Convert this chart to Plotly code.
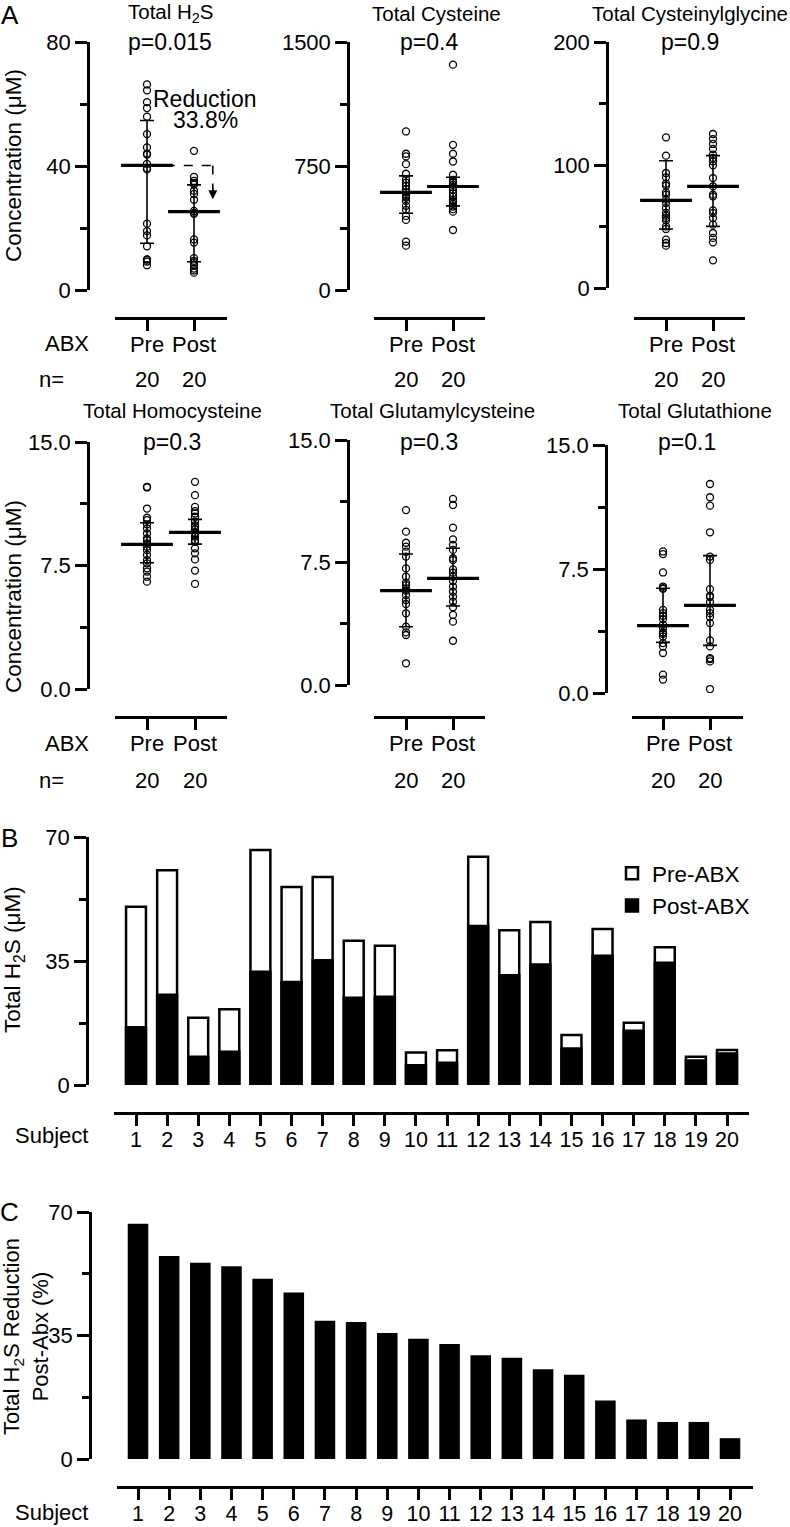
import plotly.graph_objects as go

W, H = 790, 1527
FONT = "Arial, 'Liberation Sans', Helvetica, sans-serif"


def px(x):
    return x / W


def py(y):
    return 1 - y / H


# ---------------- data ----------------
groups = ["Pre", "Post"]
subjects = list(range(1, 21))

# Total H2S per subject (µM) - panels A (first) and B
h2s_pre = [50.3, 60.6, 19.0, 21.4, 66.3, 55.9, 58.7, 40.7, 39.3, 9.2,
           9.8, 64.4, 43.7, 46.0, 14.1, 44.0, 17.6, 38.9, 8.0, 9.9]
h2s_post = [16.3, 25.5, 8.0, 9.4, 32.0, 29.1, 35.2, 24.6, 24.9, 5.6,
            6.3, 44.9, 31.0, 34.0, 10.3, 36.5, 15.3, 34.5, 6.9, 8.9]

cys_pre = [959, 824, 808, 761, 703, 670, 650, 630, 610, 590,
           575, 565, 559, 539, 509, 485, 448, 424, 293, 268]
cys_post = [1363, 878, 824, 777, 697, 666, 656, 650, 636, 622,
            606, 585, 565, 545, 535, 521, 505, 489, 474, 363]

cysgly_pre = [122.5, 107.6, 93.5, 90.0, 84.8, 83.2, 77.8, 75.9, 71.8, 69.1,
              65.0, 61.0, 58.8, 56.9, 55.0, 50.1, 48.0, 39.3, 36.6, 34.4]
cysgly_post = [125.2, 121.1, 117.1, 113.0, 108.4, 105.7, 103.0, 99.7, 89.4, 82.7,
               75.9, 74.5, 63.1, 61.0, 56.9, 51.5, 44.7, 40.7, 37.1, 22.5]

hcy_pre = [12.28, 12.24, 10.96, 10.4, 10.26, 10.0, 9.75, 9.45, 9.15, 9.05,
           8.84, 8.64, 8.44, 8.14, 7.83, 7.63, 7.33, 7.13, 6.82, 6.52]
hcy_post = [12.58, 11.77, 11.06, 10.8, 10.66, 10.46, 10.16, 9.95, 9.85, 9.69,
            9.49, 9.41, 9.25, 9.05, 8.94, 8.54, 8.24, 7.87, 7.19, 6.38]

glucys_pre = [10.71, 9.39, 8.71, 8.47, 8.16, 7.86, 7.14, 6.63, 6.27, 6.12,
              5.92, 5.78, 5.51, 5.2, 4.96, 4.39, 3.57, 3.22, 3.06, 1.33]
glucys_post = [11.39, 11.02, 9.63, 8.92, 8.57, 8.27, 7.76, 7.65, 7.08, 6.88,
               6.63, 6.37, 6.02, 5.71, 5.41, 5.1, 4.76, 4.29, 3.88, 2.71]

gsh_pre = [8.56, 8.4, 7.29, 6.44, 6.34, 6.3, 5.03, 4.83, 4.67, 4.47,
           4.13, 3.93, 3.66, 3.58, 3.42, 3.02, 2.82, 2.42, 1.11, 0.81]
gsh_post = [12.64, 11.84, 11.33, 9.72, 8.25, 8.05, 6.28, 5.88, 5.8, 5.5,
            5.03, 4.83, 4.59, 4.23, 3.18, 2.82, 2.11, 2.05, 1.91, 0.24]

# median and interquartile range  [Pre, Post]
h2s_med, h2s_q1, h2s_q3 = [40.2, 25.3], [15.1, 9.1], [54.7, 33.9]
cys_med, cys_q1, cys_q3 = [590, 626], [464, 509], [690, 682]
cysgly_med, cysgly_q1, cysgly_q3 = [71.3, 82.7], [48.0, 50.1], [103.5, 107.6]
hcy_med, hcy_q1, hcy_q3 = [8.78, 9.51], [7.67, 8.8], [10.1, 10.3]
glucys_med, glucys_q1, glucys_q3 = [5.78, 6.53], [3.57, 4.84], [8.02, 8.37]
gsh_med, gsh_q1, gsh_q3 = [4.07, 5.3], [3.06, 2.88], [6.34, 8.31]

titles = ["Total H<sub>2</sub>S", "Total Cysteine", "Total Cysteinylglycine",
          "Total Homocysteine", "Total Glutamylcysteine", "Total Glutathione"]
pvalues = ["p=0.015", "p=0.4", "p=0.9", "p=0.3", "p=0.3", "p=0.1"]
n_counts = [20, 20]

# Panel C: % reduction of total H2S post-ABX
reduction_pct = [66.7, 57.5, 55.6, 54.6, 51.1, 47.2, 39.2, 38.8, 35.7, 34.1,
                 32.6, 29.4, 28.7, 25.4, 23.9, 16.6, 11.2, 10.5, 10.5, 5.9]

# ---------------- layout geometry (pixels) ----------------
panels = [
    # data, stats, ymax, dtick, fmt, ytop, ybot, axis_x, pre_x, post_x, xl, xr, xline_y
    (h2s_pre, h2s_post, h2s_med, h2s_q1, h2s_q3, 80, 40, "d", 42, 290, 88, 147, 194, 115, 227, 318),
    (cys_pre, cys_post, cys_med, cys_q1, cys_q3, 1500, 750, "d", 42, 290, 348, 406, 453, 374, 485, 318),
    (cysgly_pre, cysgly_post, cysgly_med, cysgly_q1, cysgly_q3, 200, 100, "d", 42, 288, 607, 666, 713, 634, 745, 318),
    (hcy_pre, hcy_post, hcy_med, hcy_q1, hcy_q3, 15, 7.5, ".1f", 442, 689, 88, 147, 195, 115, 227, 717),
    (glucys_pre, glucys_post, glucys_med, glucys_q1, glucys_q3, 15, 7.5, ".1f", 440, 685, 348, 406, 453, 374, 485, 717),
    (gsh_pre, gsh_post, gsh_med, gsh_q1, gsh_q3, 15, 7.5, ".1f", 445, 693, 606, 663, 710, 632, 743, 717),
]
title_pos = [(170, 13), (436, 13), (690, 13), (172, 410), (432, 410), (695, 410)]
p_pos = [(170, 42), (429, 42), (690, 42), (172, 442), (429, 442), (687, 442)]

fig = go.Figure()
layout = {}
annotations = []
shapes = []


def ann(text, x, y, size=21, xanchor="center", yanchor="middle", angle=0):
    annotations.append(dict(text=text, x=px(x), y=py(y), xref="paper", yref="paper",
                            showarrow=False, xanchor=xanchor, yanchor=yanchor,
                            textangle=angle, font=dict(size=size, color="black", family=FONT)))


def names(i):
    s = "" if i == 1 else str(i)
    return "xaxis" + s, "yaxis" + s, "x" + s, "y" + s


def yaxis_def(ytop, ybot, axis_x, rng, dtick, fmt):
    return dict(domain=[py(ybot), py(ytop)], anchor="free", position=px(axis_x),
                range=rng, showline=True, linewidth=2.5, linecolor="black",
                ticks="outside", ticklen=12, tickwidth=2.5, tickcolor="black",
                dtick=dtick, tick0=0, tickformat=fmt, showgrid=False, zeroline=False,
                minor=dict(dtick=dtick / 2, tick0=0, ticks="outside", ticklen=7,
                           tickwidth=2.5, tickcolor="black", showgrid=False),
                tickfont=dict(size=22, color="black", family=FONT), automargin=False,
                fixedrange=True)


def xaxis_def(xl, xr, line_y, rng, tickvals, ticktext, size):
    return dict(domain=[px(xl), px(xr)], anchor="free", position=py(line_y), range=rng,
                showline=True, linewidth=2.5, linecolor="black",
                tickvals=tickvals, ticktext=ticktext, ticks="outside", ticklen=11,
                tickwidth=2.5, tickcolor="black", showgrid=False, zeroline=False,
                ticklabelstandoff=-5,
                tickfont=dict(size=size, color="black", family=FONT), automargin=False,
                fixedrange=True)


for i, (pre, post, med, q1, q3, ymax, dtick, fmt, ytop, ybot, ax_x, pre_x, post_x,
        xl, xr, xline_y) in enumerate(panels, start=1):
    xa, ya, xn, yn = names(i)
    unit = post_x - pre_x
    layout[xa] = xaxis_def(xl, xr, xline_y, [(xl - pre_x) / unit, (xr - pre_x) / unit],
                           [0, 1], groups, 22)
    layout[ya] = yaxis_def(ytop, ybot, ax_x, [0, ymax], dtick, fmt)

    for gi, vals in enumerate([pre, post]):
        fig.add_trace(go.Scatter(x=[gi] * len(vals), y=vals, mode="markers", xaxis=xn, yaxis=yn,
                                 marker=dict(symbol="circle-open", size=7, color="black",
                                             line=dict(width=1.3, color="black")),
                                 showlegend=False, hoverinfo="y"))
    # IQR whiskers
    fig.add_trace(go.Scatter(x=[0, 1], y=med, mode="markers", xaxis=xn, yaxis=yn,
                             marker=dict(size=2, color="rgba(0,0,0,0)"),
                             error_y=dict(type="data", symmetric=False,
                                          array=[q3[k] - med[k] for k in range(2)],
                                          arrayminus=[med[k] - q1[k] for k in range(2)],
                                          width=7, thickness=1.6, color="black"),
                             showlegend=False, hoverinfo="skip"))
    # median lines
    fig.add_trace(go.Scatter(x=[0, 1], y=med, mode="markers", xaxis=xn, yaxis=yn,
                             marker=dict(symbol="line-ew", size=37, color="black",
                                         line=dict(width=3.2, color="black")),
                             showlegend=False, hoverinfo="y"))

    tx, ty = title_pos[i - 1]
    ann(titles[i - 1], tx, ty, size=20.5)
    ppx, ppy = p_pos[i - 1]
    ann(pvalues[i - 1], ppx, ppy, size=23)
    nrow_y = 380 if i <= 3 else 780
    for gi, xx in enumerate([pre_x, post_x]):
        ann(str(n_counts[gi]), xx, nrow_y, size=22)

# reduction annotation (panel 1)
shapes.append(dict(type="line", xref="x", yref="y", x0=0.40, x1=1.40, y0=h2s_med[0], y1=h2s_med[0],
                   line=dict(color="black", width=1.5, dash="dash")))
shapes.append(dict(type="line", xref="x", yref="y", x0=1.40, x1=1.40, y0=h2s_med[0], y1=32,
                   line=dict(color="black", width=1.5, dash="dash")))
annotations.append(dict(x=1.40, y=29.3, ax=1.40, ay=33.5, xref="x", yref="y", axref="x", ayref="y",
                        text="", showarrow=True, arrowhead=2, arrowsize=1.2, arrowwidth=1.5,
                        arrowcolor="black"))
ann("Reduction", 205, 99, size=23)
ann("33.8%", 205, 120, size=23)

# row labels
for y in (343, 743):
    ann("ABX", 67, y, size=22)
for y in (380, 780):
    ann("n=", 51, y, size=22)
ann("Concentration (μM)", 13, 166, size=22.5, angle=-90)
ann("Concentration (μM)", 13, 597, size=22.5, angle=-90)
ann("A", 10, 15, size=26)
ann("B", 9, 838, size=26)
ann("C", 9, 1212, size=26)

# ---------------- panel B ----------------
xa, ya, xn, yn = names(7)
sp = (727 - 136) / 19
layout[xa] = xaxis_def(114, 749, 1113, [1 - (136 - 114) / sp, 20 + (749 - 727) / sp],
                       subjects, [str(s) for s in subjects], 21.5)
layout[ya] = yaxis_def(837, 1085, 87, [0, 70], 35, "d")
fig.add_trace(go.Bar(x=subjects, y=h2s_pre, xaxis=xn, yaxis=yn, name="Pre-ABX", width=0.64,
                     marker=dict(color="white", line=dict(color="black", width=2.5))))
fig.add_trace(go.Bar(x=subjects, y=h2s_post, xaxis=xn, yaxis=yn, name="Post-ABX", width=0.64,
                     marker=dict(color="black", line=dict(color="black", width=2.5))))
ann("Total H<sub>2</sub>S (μM)", 14, 960, size=22.5, angle=-90)
ann("Subject", 51, 1135, size=22)

# ---------------- panel C ----------------
xa, ya, xn, yn = names(8)
sp2 = (730 - 138) / 19
layout[xa] = xaxis_def(117, 753, 1487, [1 - (138 - 117) / sp2, 20 + (753 - 730) / sp2],
                       subjects, [str(s) for s in subjects], 21.5)
layout[ya] = yaxis_def(1212, 1459, 90, [0, 70], 35, "d")
fig.add_trace(go.Bar(x=subjects, y=reduction_pct, xaxis=xn, yaxis=yn, width=0.66,
                     marker=dict(color="black", line=dict(width=0)), showlegend=False))
ann("Total H<sub>2</sub>S Reduction<br>Post-Abx (%)", 26, 1337, size=22, angle=-90)
ann("Subject", 51, 1512, size=22)

fig.update_layout(
    width=W, height=H, margin=dict(l=0, r=0, t=0, b=0), template="none",
    paper_bgcolor="white", plot_bgcolor="white",
    font=dict(family=FONT, color="black", size=21),
    barmode="overlay", showlegend=True,
    legend=dict(x=px(612), y=py(852), xanchor="left", yanchor="top",
                font=dict(size=22.5, color="black", family=FONT), bgcolor="rgba(0,0,0,0)",
                tracegroupgap=0, itemclick=False),
    annotations=annotations, shapes=shapes, **layout)

fig.write_html("out.html", config={"displayModeBar": False},
               post_script="document.body.style.margin='0px';document.body.style.padding='0px';")
